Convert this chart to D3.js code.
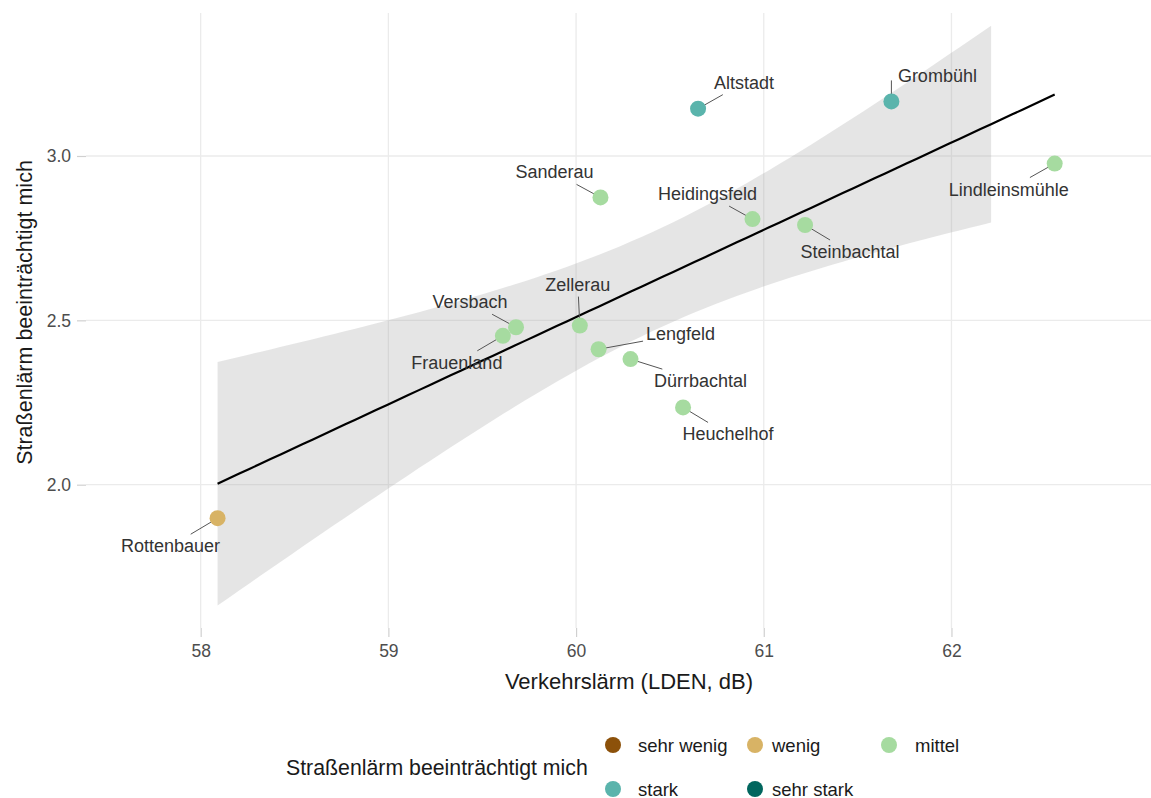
<!DOCTYPE html>
<html lang="de">
<head>
<meta charset="utf-8">
<title>Verkehrslärm und Straßenlärm-Belästigung</title>
<script src="https://cdn.jsdelivr.net/npm/d3@7"></script>
<style>
  html, body { margin: 0; padding: 0; background: #ffffff; }
  svg { display: block; font-family: "Liberation Sans", Arial, Helvetica, sans-serif; }
</style>
</head>
<body>
<svg id="chart" width="1151" height="798"></svg>
<script>
// Stadtbezirke, mittlerer Verkehrslärm (LDEN, dB) und mittlere Zustimmung
const districts = ["Rottenbauer", "Frauenland", "Versbach", "Zellerau", "Lengfeld",
  "Sanderau", "Dürrbachtal", "Heuchelhof", "Altstadt", "Heidingsfeld",
  "Steinbachtal", "Grombühl", "Lindleinsmühle"];
const lden = [58.09, 59.61, 59.68, 60.02, 60.12, 60.13, 60.29, 60.57, 60.65, 60.94, 61.22, 61.68, 62.55];
const annoyance = [1.898, 2.453, 2.479, 2.484, 2.412, 2.874, 2.382, 2.235, 3.144, 2.808, 2.790, 3.166, 2.977];
const level = ["wenig", "mittel", "mittel", "mittel", "mittel", "mittel", "mittel",
  "mittel", "stark", "mittel", "mittel", "stark", "mittel"];

const levelNames = ["sehr wenig", "wenig", "mittel", "stark", "sehr stark"];
const levelColors = ["#8c510a", "#d8b365", "#a6dba0", "#5ab4ac", "#01665e"];

const xTicks = [58, 59, 60, 61, 62];
const yTicks = [2.0, 2.5, 3.0];

// Label placement (pixel offsets of the label centre from its point)
const labelOffsets = {
  "Rottenbauer": [-47, 28], "Frauenland": [-46, 27], "Versbach": [-46, -25],
  "Zellerau": [-2, -41], "Lengfeld": [82, -15], "Sanderau": [-46, -25],
  "Dürrbachtal": [70, 22], "Heuchelhof": [45, 27], "Altstadt": [46, -26],
  "Heidingsfeld": [-45, -25], "Steinbachtal": [45, 27], "Grombühl": [46, -25],
  "Lindleinsmühle": [-46, 26]
};
// labels whose leader runs straight up from the point
const verticalLeaders = ["Grombühl"];

const svg = d3.select("#chart");
const panel = { left: 86, right: 1172, top: 13, bottom: 628 };

const x = d3.scaleLinear().domain([57.389, 63.175]).range([panel.left, panel.right]);
const y = d3.scaleLinear().domain([1.564, 3.435]).range([panel.bottom, panel.top]);
const color = d3.scaleOrdinal().domain(levelNames).range(levelColors);

const points = districts.map((d, i) => ({ name: d, x: lden[i], y: annoyance[i], level: level[i] }));

// --- Linear fit with 95 % confidence band ---
const n = points.length;
const mx = d3.mean(points, p => p.x);
const my = d3.mean(points, p => p.y);
const sxx = d3.sum(points, p => (p.x - mx) ** 2);
const sxy = d3.sum(points, p => (p.x - mx) * (p.y - my));
const slope = sxy / sxx;
const intercept = my - slope * mx;
const sse = d3.sum(points, p => (p.y - (intercept + slope * p.x)) ** 2);
const sigma = Math.sqrt(sse / (n - 2));
const tCrit = 2.201; // t(0.975, df = 11)
const yUpperLimit = 3.4;

const [xMin, xMax] = d3.extent(points, p => p.x);
const fit = d3.range(80).map(k => {
  const xv = xMin + (xMax - xMin) * k / 79;
  const fitted = intercept + slope * xv;
  const se = sigma * Math.sqrt(1 / n + (xv - mx) ** 2 / sxx);
  return { x: xv, y: fitted, lo: fitted - tCrit * se, hi: fitted + tCrit * se };
});
// band values above the y limit are dropped
const band = fit.filter(d => d.hi <= yUpperLimit);

svg.append("defs").append("clipPath").attr("id", "panel-clip")
  .append("rect").attr("x", panel.left).attr("y", panel.top)
  .attr("width", panel.right - panel.left).attr("height", panel.bottom - panel.top);

// --- Grid ---
const grid = svg.append("g");
grid.selectAll("line.vx").data(xTicks).join("line")
  .attr("x1", d => x(d)).attr("x2", d => x(d))
  .attr("y1", panel.top).attr("y2", panel.bottom)
  .attr("stroke", "#ebebeb").attr("stroke-width", 1.3);
grid.selectAll("line.hy").data(yTicks).join("line")
  .attr("x1", panel.left).attr("x2", panel.right)
  .attr("y1", d => y(d)).attr("y2", d => y(d))
  .attr("stroke", "#ebebeb").attr("stroke-width", 1.3);

// --- Axes ---
const xAxis = d3.axisBottom(x).tickValues(xTicks).tickFormat(d3.format("d")).tickSize(9).tickPadding(6);
const yAxis = d3.axisLeft(y).tickValues(yTicks).tickFormat(d3.format(".1f")).tickSize(9).tickPadding(6);

const gx = svg.append("g").attr("transform", `translate(0,${panel.bottom})`).call(xAxis);
const gy = svg.append("g").attr("transform", `translate(${panel.left},0)`).call(yAxis);
[gx, gy].forEach(g => {
  g.select(".domain").remove();
  g.selectAll(".tick line").attr("stroke", "#d0d0d0").attr("stroke-width", 1.2);
  g.selectAll(".tick text").attr("fill", "#4d4d4d").style("font-size", "17.5px")
    .style("font-family", "'Liberation Sans', Arial, sans-serif");
});
gx.selectAll(".tick text").attr("dy", null).attr("y", 23).attr("dominant-baseline", "central");
gy.selectAll(".tick text").attr("dy", null).attr("dominant-baseline", "central");

// --- Confidence band and regression line ---
const plot = svg.append("g").attr("clip-path", "url(#panel-clip)");
plot.append("path").datum(band)
  .attr("d", d3.area().x(d => x(d.x)).y0(d => y(d.lo)).y1(d => y(d.hi)))
  .attr("fill", "#999999").attr("fill-opacity", 0.26);
plot.append("path").datum(fit)
  .attr("d", d3.line().x(d => x(d.x)).y(d => y(d.y)))
  .attr("fill", "none").attr("stroke", "#000").attr("stroke-width", 2.2);

// --- Labels with leader segments ---
const radius = 8;
const labelLayer = svg.append("g");
points.forEach(p => {
  const px = x(p.x), py = y(p.y);
  const [ox, oy] = labelOffsets[p.name];
  const cx = px + ox, cy = py + oy;
  const t = labelLayer.append("text")
    .attr("x", cx).attr("y", cy)
    .attr("text-anchor", "middle").attr("dominant-baseline", "central")
    .attr("fill", "#333333").style("font-size", "18px")
    .text(p.name);
  const bb = t.node().getBBox();
  const pad = 3;
  const bx0 = bb.x - pad, bx1 = bb.x + bb.width + pad;
  const by0 = cy - 9 - pad, by1 = cy + 9 + pad;
  let ex, ey;
  if (verticalLeaders.includes(p.name)) {
    ex = px; ey = cy > py ? cy - 4 : cy + 4;
  } else {
    // intersection of the ray point -> label centre with the padded label box
    const dx = cx - px, dy = cy - py;
    let tHit = 1;
    if (dx !== 0) {
      const edge = dx > 0 ? bx0 : bx1;
      const tt = (edge - px) / dx;
      const yy = py + tt * dy;
      if (tt > 0 && tt < tHit && yy >= by0 && yy <= by1) tHit = tt;
    }
    if (dy !== 0) {
      const edge = dy > 0 ? by0 : by1;
      const tt = (edge - py) / dy;
      const xx = px + tt * dx;
      if (tt > 0 && tt < tHit && xx >= bx0 && xx <= bx1) tHit = tt;
    }
    ex = px + tHit * dx; ey = py + tHit * dy;
  }
  const len = Math.hypot(ex - px, ey - py);
  if (len > radius + 3) {
    const ux = (ex - px) / len, uy = (ey - py) / len;
    labelLayer.append("line")
      .attr("x1", px + ux * (radius - 1)).attr("y1", py + uy * (radius - 1))
      .attr("x2", ex).attr("y2", ey)
      .attr("stroke", "#555555").attr("stroke-width", 1);
  }
});

// --- Points ---
svg.append("g").selectAll("circle").data(points).join("circle")
  .attr("cx", d => x(d.x)).attr("cy", d => y(d.y)).attr("r", radius)
  .attr("fill", d => color(d.level));

// --- Axis titles ---
svg.append("text")
  .attr("x", (panel.left + panel.right) / 2).attr("y", 681)
  .attr("text-anchor", "middle").attr("dominant-baseline", "central")
  .attr("fill", "#1a1a1a").style("font-size", "22px")
  .text("Verkehrslärm (LDEN, dB)");
svg.append("text")
  .attr("transform", `translate(25,${(panel.top + panel.bottom) / 2 - 8}) rotate(-90)`)
  .attr("text-anchor", "middle").attr("dominant-baseline", "central")
  .attr("fill", "#1a1a1a").style("font-size", "21.5px")
  .text("Straßenlärm beeinträchtigt mich");

// --- Legend ---
const legend = svg.append("g");
legend.append("text")
  .attr("x", 286).attr("y", 768).attr("dominant-baseline", "central")
  .attr("fill", "#1a1a1a").style("font-size", "21.3px")
  .text("Straßenlärm beeinträchtigt mich");
const keyX = [613, 755, 889];
const textX = [638, 772, 915];
const rowY = [745, 789];
levelNames.forEach((name, i) => {
  const col = i % 3, row = Math.floor(i / 3);
  legend.append("circle")
    .attr("cx", keyX[col]).attr("cy", rowY[row]).attr("r", radius)
    .attr("fill", color(name));
  legend.append("text")
    .attr("x", textX[col]).attr("y", rowY[row]).attr("dominant-baseline", "central")
    .attr("fill", "#1a1a1a").style("font-size", "18.5px")
    .text(name);
});
</script>
</body>
</html>
